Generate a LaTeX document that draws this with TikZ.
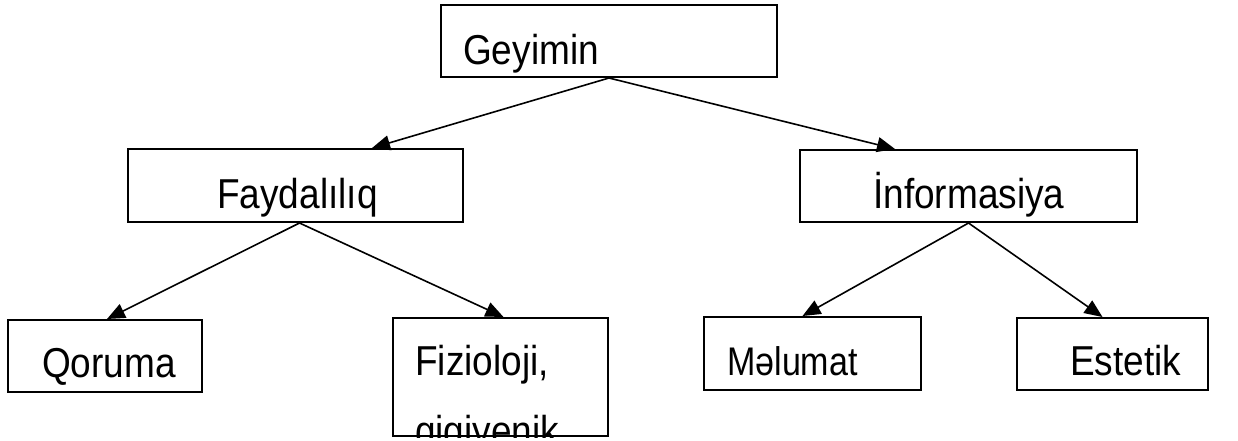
\documentclass[tikz,border=0pt]{standalone}
\usepackage{fontspec}
\setmainfont{Liberation Sans}
\usetikzlibrary{arrows.meta}
\newcommand{\tallx}[1]{\scalebox{1}[1.13]{#1}}
\begin{document}
\begin{tikzpicture}[x=1pt,y=-1pt,
  box/.style={draw,line width=2pt,inner sep=0pt,rectangle},
  lbl/.style={anchor=base west,inner sep=0pt,font=\fontsize{37}{37}\selectfont},
  conn/.style={line width=1.6pt,-{Triangle[length=18pt,width=15pt]}}]
\useasboundingbox (0,0) rectangle (1238,440);
\node[box,minimum width=336pt,minimum height=72pt] (top) at (609,41) {};
\node[box,minimum width=335pt,minimum height=73pt] (fay) at (295.5,185.5) {};
\node[box,minimum width=337pt,minimum height=72pt] (inf) at (968.5,186) {};
\node[box,minimum width=194pt,minimum height=72pt] (qor) at (105,356) {};
\node[box,minimum width=215pt,minimum height=118pt] (fiz) at (500.5,377) {};
\node[box,minimum width=217pt,minimum height=73pt] (mel) at (812.5,353.5) {};
\node[box,minimum width=191pt,minimum height=72pt] (est) at (1112.5,354) {};
\begin{scope}
\clip (top.south west) rectangle (top.north east);
\node[lbl] (ttop) at (463,64) {\tallx{Geyimin}};
\end{scope}
\begin{scope}
\clip (fay.south west) rectangle (fay.north east);
\node[lbl] (tfay) at (217,208) {\tallx{Faydalılıq}};
\end{scope}
\begin{scope}
\clip (inf.south west) rectangle (inf.north east);
\node[lbl] (tinf) at (873,208) {\tallx{İnformasiya}};
\end{scope}
\node[lbl] (tqor) at (42,377) {\tallx{Qoruma}};
\begin{scope}
\clip (fiz.south west) rectangle (fiz.north east);
\node[lbl] (tfiz1) at (415,375) {\tallx{Fizioloji,}};
\node[lbl] (tfiz2) at (415,445) {\tallx{gigiyenik}};
\end{scope}
\node[lbl] (tmel) at (727,375) {\scalebox{0.92}[1.08]{Məlumat}};
\node[lbl] (test) at (1070,375) {\tallx{Estetik}};
\draw[conn] (top.south) -- ([xshift=76.5pt]fay.north);
\draw[conn] (top.south) -- ([xshift=-73.5pt]inf.north);
\draw[conn] ([xshift=4pt]fay.south) -- ([xshift=2pt]qor.north);
\draw[conn] ([xshift=4pt]fay.south) -- ([xshift=3pt]fiz.north);
\draw[conn] (inf.south) -- ([xshift=-10pt]mel.north);
\draw[conn] (inf.south) -- ([xshift=-10pt]est.north);
\end{tikzpicture}
\end{document}
